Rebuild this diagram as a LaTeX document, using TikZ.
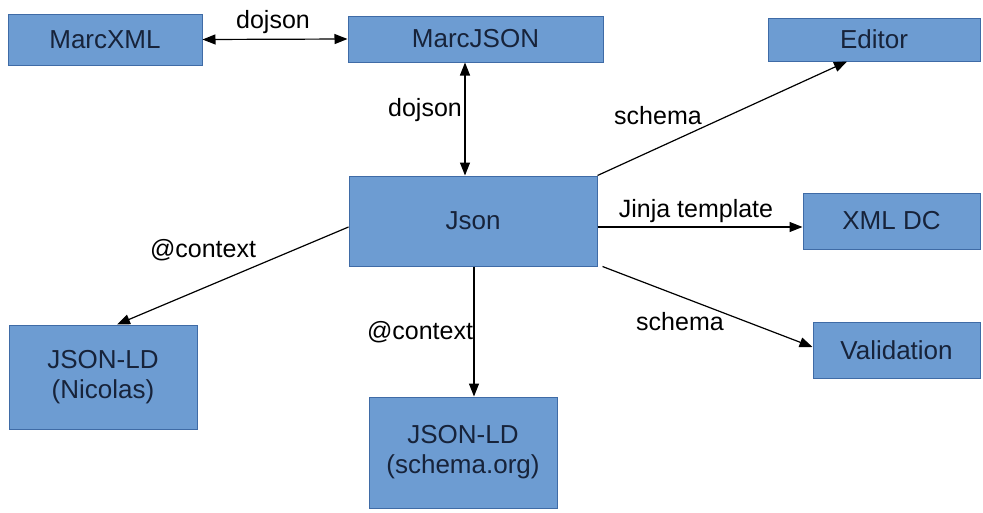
\documentclass[tikz,border=0pt]{standalone}
\usepackage{fontspec}
\setmainfont{Liberation Sans}
\usetikzlibrary{arrows.meta}
\definecolor{boxfill}{HTML}{6D9CD2}
\definecolor{boxline}{HTML}{3F6BA6}
\definecolor{boxtext}{HTML}{17233A}
\begin{document}
\begin{tikzpicture}[x=1pt,y=-1pt,
  box/.style={draw=boxline,line width=1pt,fill=boxfill,text=boxtext,
    inner sep=0pt,align=center,font=\fontsize{26}{30}\selectfont},
  lbl/.style={inner sep=0pt,text=black,font=\fontsize{25}{29}\selectfont},
  conn/.style={draw=black,line width=1.2pt,-{Triangle[length=13pt,width=10pt]}},
  bconn/.style={draw=black,line width=1.2pt,{Triangle[length=13pt,width=10pt]}-{Triangle[length=13pt,width=10pt]}}]
\useasboundingbox[fill=white] (0,0) rectangle (983,512);

\node[box,minimum width=194pt,minimum height=51pt] (marcxml) at (105,39.5) {MarcXML};
\node[box,minimum width=255pt,minimum height=46pt] (marcjson) at (475.5,39) {MarcJSON};
\node[box,minimum width=212pt,minimum height=43pt] (editor) at (874,39.5) {Editor};
\node[box,minimum width=248pt,minimum height=90pt] (json) at (473,221) {Json};
\node[box,minimum width=177pt,minimum height=56pt] (xmldc) at (891.5,221) {XML DC};
\node[box,minimum width=167pt,minimum height=56pt] (valid) at (896.5,350) {Validation};
\node[box,minimum width=188pt,minimum height=104pt] (nicolas) at (103,377) {JSON-LD\\(Nicolas)};
\node[box,minimum width=188pt,minimum height=111pt] (schemaorg) at (463,452.5) {JSON-LD\\(schema.org)};

\draw[bconn] (marcxml.east) -- (marcjson.west);
\draw[bconn] ([xshift=-10.5pt]marcjson.south) -- ([xshift=-8pt]json.north);
\draw[conn] (json.north east) -- ([xshift=-27pt]editor.south);
\draw[conn] ([yshift=-6pt]json.east) -- ([yshift=-6pt]xmldc.west);
\draw[conn] ([xshift=5pt]json.south east) -- ([yshift=3pt]valid.west);
\draw[conn] ([yshift=-6pt]json.west) -- ([xshift=14pt]nicolas.north);
\draw[conn] ([xshift=1pt]json.south) -- ([xshift=11pt]schemaorg.north);

\node[lbl] (l1) at (273,22) {dojson};
\node[lbl] (l2) at (425,110) {dojson};
\node[lbl] (l3) at (658,116) {schema};
\node[lbl] (l4) at (696,211) {Jinja template};
\node[lbl] (l5) at (680,322) {schema};
\node[lbl] (l6) at (203,250) {@context};
\node[lbl] (l7) at (420,332) {@context};
\end{tikzpicture}
\end{document}
